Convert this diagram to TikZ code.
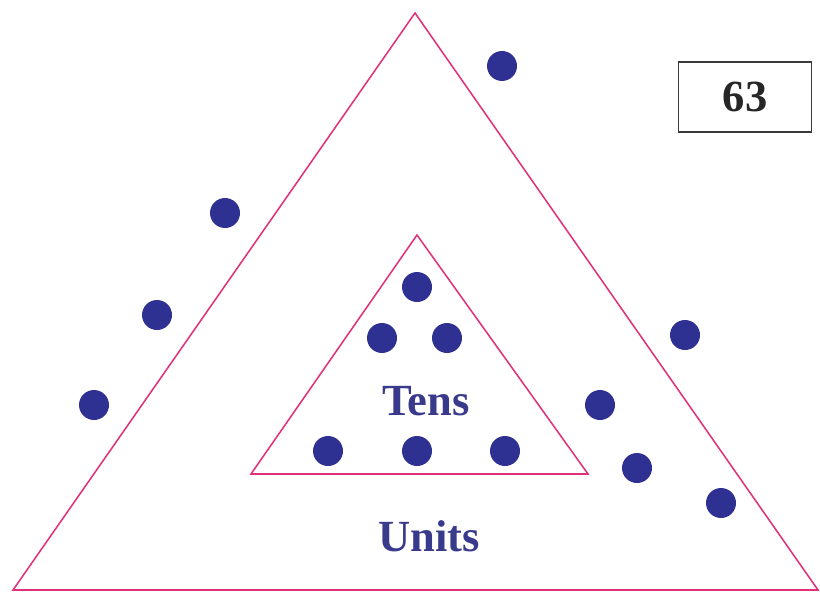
\documentclass[tikz,border=0pt]{standalone}
\usepackage{fontspec}
\setmainfont{Liberation Serif}
\usepackage{tikz}
\usetikzlibrary{positioning}
\definecolor{EdgePink}{HTML}{E0307A}
\definecolor{DotBlue}{HTML}{2E3192}
\definecolor{LabelBlue}{HTML}{3A3A8C}
\definecolor{BoxGray}{HTML}{3A3A3A}

\begin{document}
\begin{tikzpicture}[x=0.03cm,y=-0.03cm,
  % ── triangle style ───────────────────────────────────────
  tri/.style={draw=EdgePink, line width=1.3pt, line join=miter},
  % ── counter dots ─────────────────────────────────────────
  dot/.style={circle, fill=DotBlue, minimum size=0.9cm, inner sep=0pt},
  % ── labels ───────────────────────────────────────────────
  lbl/.style={font=\fontsize{38}{40}\selectfont\bfseries, text=LabelBlue, inner sep=0pt},
  % ── number box ───────────────────────────────────────────
  numbox/.style={draw=BoxGray, line width=1.2pt, minimum width=4.0cm,
                 minimum height=2.1cm, font=\fontsize{38}{40}\selectfont\bfseries,
                 text=black!85}
]
\useasboundingbox (0,0) rectangle (820,592);

%% ── Triangles ──
\coordinate (OA) at (415,13);
\coordinate (OL) at (13,590);
\coordinate (OR) at (818,590);
\coordinate (IA) at (417,235);
\coordinate (IL) at (251,474);
\coordinate (IR) at (588,474);
\draw[tri] (OA) -- (OR) -- (OL) -- cycle;
\draw[tri] (IA) -- (IR) -- (IL) -- cycle;

%% ── Tens dots ──
\node[dot] (t1) at (417,287) {};
\node[dot] (t2) at (382,338) {};
\node[dot] (t3) at (447,338) {};
\node[dot] (t4) at (328,451) {};
\node[dot] (t5) at (417,451) {};
\node[dot] (t6) at (505,451) {};

%% ── Units dots ──
\node[dot] (u1) at (502,66)  {};
\node[dot] (u2) at (225,213) {};
\node[dot] (u3) at (157,315) {};
\node[dot] (u4) at (94,405)  {};
\node[dot] (u5) at (685,335) {};
\node[dot] (u6) at (600,405) {};
\node[dot] (u7) at (637,468) {};
\node[dot] (u8) at (721,503) {};

%% ── Labels ──
\node[lbl] (tens)  at (426,401) {Tens};
\node[lbl] (units) at (429,536) {Units};
\node[numbox] (num) at (745,97) {63};

\end{tikzpicture}
\end{document}
